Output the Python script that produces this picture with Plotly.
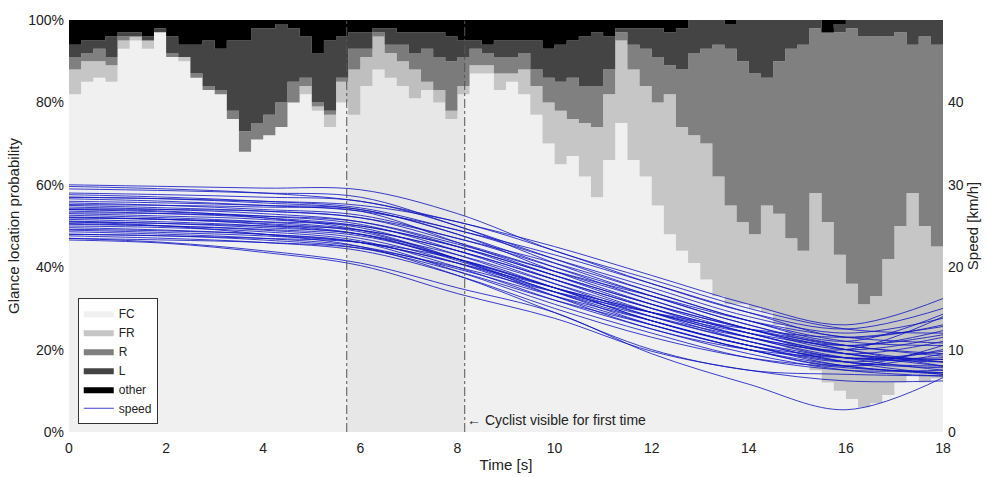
import plotly.graph_objects as go

# ---- glance location data (cumulative upper boundary of each class, %) ----
time_s = [i * 0.25 for i in range(73)]  # 0 .. 18 s

fc_top = [82, 85, 86, 85, 93, 95, 93, 97, 91, 90, 86, 83, 82, 76, 68, 71, 72, 74, 80,
          82, 78, 74, 80, 77, 84, 88, 86, 84, 81, 83, 80, 76, 82, 87, 87, 83, 85,
          82, 77, 70, 65, 67, 62, 57, 66, 75, 66, 62, 55, 48, 44, 41, 37, 33, 31,
          31, 30, 29, 26, 20, 18, 15, 12, 10, 8, 6, 7, 9, 12, 14, 12, 13, 14]

fr_top = [88, 90, 90, 89, 95, 96, 95, 97, 91, 91, 86, 83, 82, 76, 68, 71, 72, 74, 80,
          84, 79, 77, 85, 88, 91, 96, 92, 90, 88, 85, 83, 78, 84, 89, 89, 87, 87,
          88, 84, 80, 78, 76, 75, 74, 82, 95, 88, 84, 80, 82, 74, 72, 70, 62, 55,
          51, 48, 55, 53, 47, 44, 58, 51, 43, 36, 31, 33, 42, 50, 58, 50, 45, 36]

r_top = [91, 92, 93, 91, 96, 96, 95, 97, 92, 91, 87, 84, 83, 78, 73, 75, 77, 80, 85,
         86, 80, 78, 86, 93, 93, 97, 94, 94, 92, 93, 91, 90, 91, 93, 92, 91, 91,
         92, 88, 86, 85, 86, 84, 84, 88, 97, 94, 93, 91, 89, 88, 92, 93, 94, 93,
         90, 87, 86, 90, 93, 94, 98, 98, 97, 98, 96, 96, 96, 97, 94, 96, 94, 95]

l_top = [94, 95, 95, 96, 97, 97, 96, 98, 96, 94, 94, 95, 93, 95, 95, 98, 98, 99, 98,
         96, 92, 95, 96, 97, 97, 98, 98, 97, 97, 97, 97, 96, 95, 95, 94, 95, 95,
         95, 95, 93, 94, 95, 96, 97, 96, 98, 98, 98, 98, 97, 98, 100, 100, 100, 99,
         100, 100, 100, 100, 100, 100, 100, 97, 99, 100, 100, 100, 100, 100, 100, 100, 100, 99]

other_top = [100] * len(time_s)

classes = ["FC", "FR", "R", "L", "other"]
class_colors = ["#f0f0f0", "#c6c6c6", "#808080", "#444444", "#000000"]
class_tops = [fc_top, fr_top, r_top, l_top, other_top]

# axis ticks
prob_ticks = [0, 20, 40, 60, 80, 100]
prob_labels = ["0%", "20%", "40%", "60%", "80%", "100%"]
speed_ticks = [0, 10, 20, 30, 40]
time_ticks = [0, 2, 4, 6, 8, 10, 12, 14, 16, 18]

# ---- speed traces (km/h), sampled every 2 s ----
speed_time = [0, 2, 4, 6, 8, 10, 12, 14, 16, 18]
speed_runs = [
    [30.0, 29.8, 29.6, 29.4, 26.5, 22.0, 18.5, 15.0, 12.5, 12.0],
    [29.8, 29.5, 29.0, 28.0, 25.5, 22.5, 19.0, 15.5, 13.0, 16.2],
    [29.5, 29.3, 29.0, 28.5, 25.0, 21.0, 17.0, 13.5, 11.0, 14.3],
    [29.0, 28.8, 28.5, 28.0, 25.0, 20.5, 16.5, 13.0, 10.5, 9.5],
    [28.8, 28.5, 28.0, 27.2, 24.5, 21.5, 18.0, 14.5, 11.5, 13.0],
    [28.5, 28.3, 27.8, 27.0, 24.0, 20.0, 16.0, 12.5, 10.0, 8.5],
    [28.3, 28.0, 27.5, 26.8, 24.5, 21.0, 17.5, 14.0, 12.0, 13.8],
    [28.0, 27.8, 27.5, 27.0, 24.0, 19.5, 15.5, 12.0, 9.5, 8.0],
    [27.8, 27.5, 27.0, 26.3, 23.5, 20.5, 17.0, 13.5, 11.0, 10.5],
    [27.6, 27.5, 27.3, 26.8, 23.0, 19.0, 15.0, 11.5, 9.0, 7.5],
    [27.5, 27.2, 26.8, 26.0, 23.5, 20.0, 16.5, 13.0, 10.5, 12.3],
    [27.3, 27.0, 26.5, 25.5, 22.5, 18.5, 14.5, 11.0, 8.5, 7.0],
    [27.1, 27.0, 26.8, 26.0, 23.0, 19.5, 16.0, 12.5, 10.0, 11.5],
    [27.0, 26.7, 26.2, 25.2, 22.0, 18.0, 14.0, 11.0, 9.0, 8.8],
    [26.8, 26.5, 26.0, 25.0, 22.5, 19.0, 15.5, 12.5, 10.5, 9.2],
    [26.6, 26.5, 26.2, 25.5, 22.8, 19.5, 16.5, 13.5, 11.5, 10.8],
    [26.5, 26.2, 25.8, 24.8, 21.5, 17.5, 13.5, 10.5, 8.0, 7.2],
    [26.3, 26.0, 25.5, 24.5, 22.0, 18.5, 15.0, 12.0, 9.5, 8.8],
    [26.1, 25.8, 25.3, 24.3, 21.0, 17.0, 13.5, 10.5, 8.5, 10.0],
    [26.0, 25.8, 25.5, 25.0, 22.5, 19.0, 15.5, 12.5, 10.0, 8.0],
    [25.8, 25.5, 25.0, 24.0, 21.5, 18.0, 14.5, 11.5, 9.0, 9.8],
    [25.6, 25.3, 24.8, 24.0, 21.0, 17.5, 14.0, 11.0, 8.5, 7.8],
    [25.5, 25.3, 25.0, 24.5, 22.0, 18.5, 15.0, 12.0, 9.5, 11.0],
    [25.3, 25.0, 24.5, 23.5, 20.5, 16.5, 13.0, 10.0, 8.0, 7.0],
    [25.2, 25.0, 24.6, 23.8, 21.0, 17.5, 14.5, 11.5, 9.5, 8.5],
    [25.0, 24.8, 24.3, 23.2, 20.0, 16.0, 12.5, 9.5, 7.5, 6.8],
    [24.8, 24.5, 24.0, 23.0, 20.5, 17.0, 14.0, 11.5, 10.0, 14.0],
    [24.6, 24.4, 24.0, 23.0, 19.5, 15.5, 12.0, 9.0, 7.5, 7.5],
    [24.5, 24.2, 23.8, 23.0, 20.5, 17.5, 14.5, 12.0, 10.5, 11.8],
    [24.3, 24.0, 23.5, 22.5, 19.8, 16.5, 13.5, 10.5, 8.5, 8.0],
    [24.0, 23.8, 23.3, 22.3, 19.5, 16.0, 13.0, 10.0, 8.0, 9.5],
    [23.8, 23.5, 23.0, 22.0, 19.0, 15.0, 11.5, 9.0, 7.8, 7.2],
    [23.5, 23.3, 23.0, 22.3, 20.0, 17.0, 14.5, 12.5, 11.5, 12.8],
    [23.3, 22.9, 21.8, 20.2, 16.8, 13.8, 9.8, 7.5, 6.2, 6.2],
    [23.5, 23.0, 22.0, 20.5, 17.5, 14.5, 9.5, 5.8, 2.7, 6.6],
    [25.5, 25.0, 24.0, 22.5, 19.0, 14.5, 10.0, 7.5, 7.0, 6.8],
    [27.0, 26.8, 26.0, 24.5, 21.0, 16.5, 12.5, 10.0, 9.0, 9.0],
    [28.5, 28.3, 28.0, 27.5, 25.5, 22.0, 18.0, 14.5, 12.5, 15.0],
    [26.0, 25.8, 25.2, 24.0, 20.8, 17.0, 13.0, 10.0, 8.0, 10.5],
    [24.0, 23.8, 23.5, 23.0, 21.0, 17.5, 13.5, 10.5, 9.0, 8.5],
]

# event markers (s)
window_start = 5.72
cyclist_visible = 8.15

fig = go.Figure()

# stacked glance-location areas
for i, (name, color, top) in enumerate(zip(classes, class_colors, class_tops)):
    fig.add_trace(go.Scatter(
        x=time_s, y=top, name=name, mode="lines",
        line=dict(width=0, shape="hv", color=color),
        fill="tozeroy" if i == 0 else "tonexty",
        fillcolor=color, hoverinfo="skip",
    ))

# speed profiles on the secondary axis
for k, run in enumerate(speed_runs):
    fig.add_trace(go.Scatter(
        x=speed_time, y=run, yaxis="y2", mode="lines", name="speed",
        legendgroup="speed", showlegend=(k == 0),
        line=dict(color="rgb(15,20,195)", width=0.9, shape="spline", smoothing=1.0),
        opacity=0.9,
    ))

fig.add_shape(type="rect", xref="x", yref="paper", x0=window_start, x1=cyclist_visible,
              y0=0, y1=1, fillcolor="rgba(0,0,0,0.035)", line=dict(width=0), layer="above")
for xv in (window_start, cyclist_visible):
    fig.add_shape(type="line", xref="x", yref="paper", x0=xv, x1=xv, y0=0, y1=1,
                  line=dict(color="#555555", width=1, dash="dashdot"), layer="above")

fig.add_annotation(x=cyclist_visible, y=3, xref="x", yref="y", xanchor="left",
                   text="\u2190 Cyclist visible for first time", showarrow=False,
                   font=dict(size=14, color="#222222"))

fig.update_layout(
    width=987, height=477,
    margin=dict(l=69, r=44, t=20, b=45, autoexpand=False),
    paper_bgcolor="white", plot_bgcolor="white",
    font=dict(family="Liberation Sans, Arial, sans-serif", size=14, color="#222222"),
    xaxis=dict(range=[0, 18], tickmode="array", tickvals=time_ticks, showgrid=False,
               zeroline=False, showline=False, ticks="", ticklabelstandoff=6,
               tickfont=dict(size=14), automargin=False,
               title=dict(text="Time [s]", font=dict(size=15), standoff=4)),
    yaxis=dict(range=[0, 100], tickmode="array", tickvals=prob_ticks, ticktext=prob_labels,
               showgrid=False, zeroline=False, showline=False, ticks="",
               ticklabelstandoff=4, tickfont=dict(size=14), automargin=False,
               title=dict(text="Glance location probability", font=dict(size=15), standoff=4)),
    yaxis2=dict(range=[0, 50], tickmode="array", tickvals=speed_ticks, overlaying="y",
                side="right", showgrid=False, zeroline=False, showline=False, ticks="",
                ticklabelstandoff=4, tickfont=dict(size=14), automargin=False,
                title=dict(text="Speed [km/h]", font=dict(size=15), standoff=4)),
    legend=dict(x=0.01, y=0.02, xanchor="left", yanchor="bottom",
                bgcolor="white", bordercolor="#333333", borderwidth=1,
                font=dict(size=12), itemwidth=30, tracegroupgap=0,
                traceorder="normal"),
    showlegend=True,
)

fig.write_html("out.html")
